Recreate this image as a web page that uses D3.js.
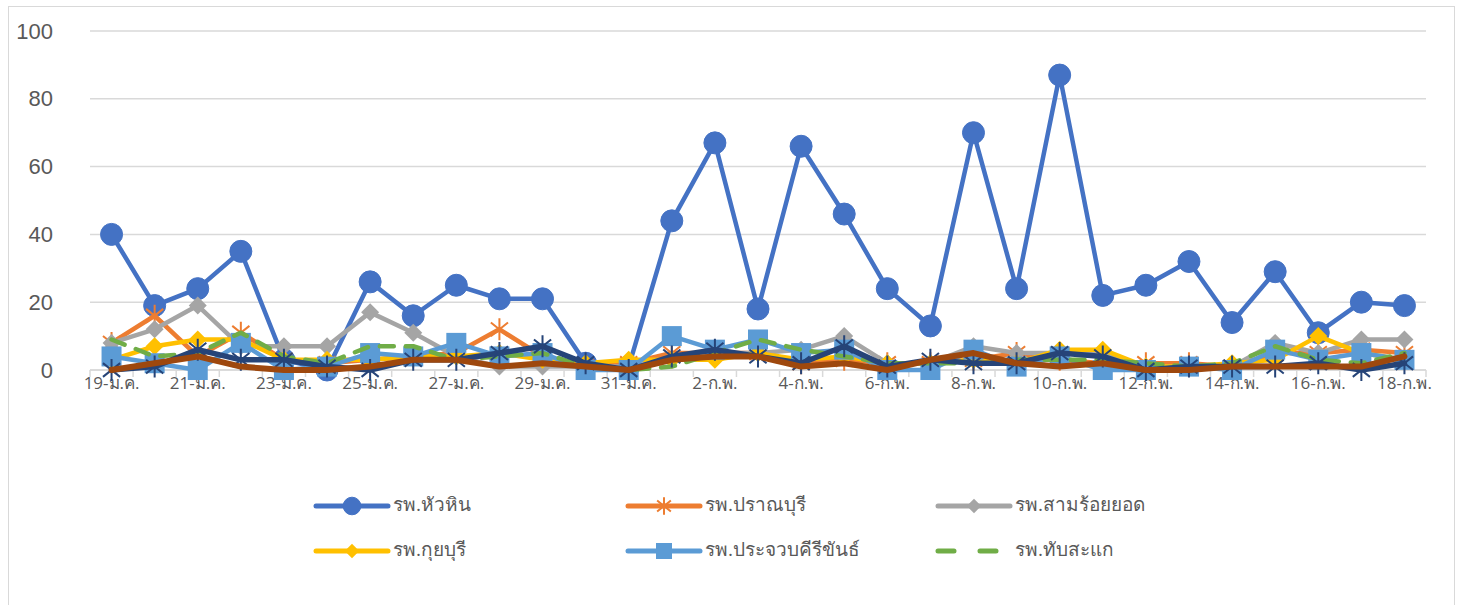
<!DOCTYPE html>
<html><head><meta charset="utf-8">
<script src="https://cdn.jsdelivr.net/npm/d3@7"></script>
<style>
body{margin:0;background:#fff;}
svg{display:block;font-family:"Segoe UI","Open Sans","Noto Sans",sans-serif;}
</style></head><body>
<svg id="c" width="1459" height="605"></svg>
<script>
const categories = ["19-ม.ค.","20-ม.ค.","21-ม.ค.","22-ม.ค.","23-ม.ค.","24-ม.ค.","25-ม.ค.","26-ม.ค.","27-ม.ค.","28-ม.ค.","29-ม.ค.","30-ม.ค.","31-ม.ค.",
"1-ก.พ.","2-ก.พ.","3-ก.พ.","4-ก.พ.","5-ก.พ.","6-ก.พ.","7-ก.พ.","8-ก.พ.","9-ก.พ.","10-ก.พ.","11-ก.พ.","12-ก.พ.","13-ก.พ.","14-ก.พ.","15-ก.พ.","16-ก.พ.","17-ก.พ.","18-ก.พ."];
const huaHin      = [40,19,24,35,3,0,26,16,25,21,21,2,1,44,67,18,66,46,24,13,70,24,87,22,25,32,14,29,11,20,19];
const pranBuri    = [8,16,4,11,3,2,3,4,5,12,4,1,2,5,5,5,2,3,2,2,3,5,3,2,2,2,1,5,5,6,5];
const samRoiYot   = [8,12,19,7,7,7,17,11,4,1,1,1,1,3,5,5,6,10,2,2,7,5,5,5,1,1,1,8,5,9,9];
const kuiBuri     = [3,7,9,9,3,3,3,4,4,5,3,2,3,3,3,5,3,4,2,2,3,2,6,6,1,1,2,3,10,5,3];
const prachuap    = [4,2,0,8,0,1,5,4,8,4,5,0,0,10,6,9,5,6,0,0,6,1,4,0,0,1,0,6,3,5,3];
const thapSakae   = [9,4,5,11,4,2,7,7,3,4,5,1,0,1,5,9,6,4,2,2,2,3,3,3,2,1,2,7,3,2,5];
const seriesNavy  = [0,1,6,3,3,1,0,3,3,5,7,2,0,4,6,4,2,7,1,3,2,2,5,4,0,1,1,1,2,0,2];
const seriesBrown = [0,2,4,1,0,0,1,3,3,1,2,1,0,3,4,4,1,2,0,3,5,2,1,2,0,0,1,1,1,1,4];
const yTicks = [0,20,40,60,80,100];

const series = [
  {name:"รพ.หัวหิน", values:huaHin, color:"#4472C4", marker:"circle", width:4.5, legend:true},
  {name:"รพ.ปราณบุรี", values:pranBuri, color:"#ED7D31", marker:"star", width:4.5, legend:true},
  {name:"รพ.สามร้อยยอด", values:samRoiYot, color:"#A5A5A5", marker:"diamond", width:4.5, legend:true},
  {name:"รพ.กุยบุรี", values:kuiBuri, color:"#FFC000", marker:"diamond", width:4.5, legend:true},
  {name:"รพ.ประจวบคีรีขันธ์", values:prachuap, color:"#5B9BD5", marker:"square", width:4.5, legend:true},
  {name:"รพ.ทับสะแก", values:thapSakae, color:"#70AD47", marker:"none", width:4.5, dash:"14,12", legend:true},
  {name:"series7", values:seriesNavy, color:"#264478", marker:"star", width:5.5, legend:false},
  {name:"series8", values:seriesBrown, color:"#9E480E", marker:"none", width:6, legend:false}
];

const svg = d3.select("#c");
svg.append("rect").attr("x",8.5).attr("y",6.5).attr("width",1446).attr("height",620)
  .attr("fill","none").attr("stroke","#D9D9D9").attr("stroke-width",1);

const L=90, R=1426, T=31, B=370;
const x = d3.scalePoint().domain(categories).range([L,R]).padding(0.5);
const y = d3.scaleLinear().domain([0,100]).range([B,T]);
const step = x.step();

svg.append("g").selectAll("line").data(yTicks).join("line")
  .attr("x1",L).attr("x2",R).attr("y1",d=>y(d)).attr("y2",d=>y(d))
  .attr("stroke","#D9D9D9").attr("stroke-width",1.5);

const ya = svg.append("g").attr("transform",`translate(${L},0)`)
  .call(d3.axisLeft(y).tickValues(yTicks).tickSize(0).tickPadding(37));
ya.select(".domain").remove();
ya.selectAll("text").attr("font-size",22).attr("fill","#595959");

svg.append("line").attr("x1",L).attr("x2",R).attr("y1",B).attr("y2",B).attr("stroke","#D9D9D9").attr("stroke-width",1.5);
svg.append("g").selectAll("line").data(d3.range(categories.length+1)).join("line")
  .attr("x1",i=>L+i*step).attr("x2",i=>L+i*step).attr("y1",B).attr("y2",B+7)
  .attr("stroke","#D9D9D9").attr("stroke-width",1.5);
svg.append("g").selectAll("text").data(categories.filter((d,i)=>i%2===0)).join("text")
  .attr("x",d=>x(d)).attr("y",B+14).attr("text-anchor","middle").attr("dominant-baseline","middle")
  .attr("font-size",17).attr("fill","#595959").text(d=>d);

function starPath(s){
  const r=s/2, a=r*0.78;
  return `M0,${-r}L0,${r}M${-a},${-a*0.8}L${a},${a*0.8}M${-a},${a*0.8}L${a},${-a*0.8}`;
}
function drawMarker(g, s, cx, cy, scale){
  scale = scale||1;
  if(s.marker==="circle"){
    g.append("circle").attr("cx",cx).attr("cy",cy).attr("r",11*scale).attr("fill",s.color).attr("stroke",s.color);
  } else if(s.marker==="diamond"){
    const r=9*scale;
    g.append("path").attr("d",`M${cx},${cy-r}L${cx+r},${cy}L${cx},${cy+r}L${cx-r},${cy}Z`).attr("fill",s.color);
  } else if(s.marker==="square"){
    const r=10*scale;
    g.append("rect").attr("x",cx-r).attr("y",cy-r).attr("width",2*r).attr("height",2*r).attr("fill",s.color);
  } else if(s.marker==="star"){
    g.append("path").attr("d",starPath(22*scale)).attr("transform",`translate(${cx},${cy})`)
      .attr("stroke",s.color).attr("stroke-width",2).attr("fill","none");
  }
}

const line = d3.line().x((d,i)=>x(categories[i])).y(d=>y(d));
series.forEach(s=>{
  const g = svg.append("g");
  g.append("path").attr("d",line(s.values)).attr("fill","none").attr("stroke",s.color)
    .attr("stroke-width",s.width).attr("stroke-linejoin","round").attr("stroke-linecap","round")
    .attr("stroke-dasharray",s.dash||null);
  s.values.forEach((v,i)=>drawMarker(g,s,x(categories[i]),y(v)));
});

const legCols=[316,628,938], legRows=[506,551];
series.filter(s=>s.legend).forEach((s,i)=>{
  const lx=legCols[i%3], ly=legRows[Math.floor(i/3)];
  const g=svg.append("g");
  g.append("line").attr("x1",lx).attr("x2",lx+72).attr("y1",ly).attr("y2",ly)
    .attr("stroke",s.color).attr("stroke-width",5).attr("stroke-linecap","round")
    .attr("stroke-dasharray",s.dash?"16,26":null);
  drawMarker(g,s,lx+36,ly,0.8);
  g.append("text").attr("x",lx+77).attr("y",ly).attr("dominant-baseline","middle")
    .attr("font-size",19).attr("fill","#595959").text(s.name);
});
</script>
</body></html>
